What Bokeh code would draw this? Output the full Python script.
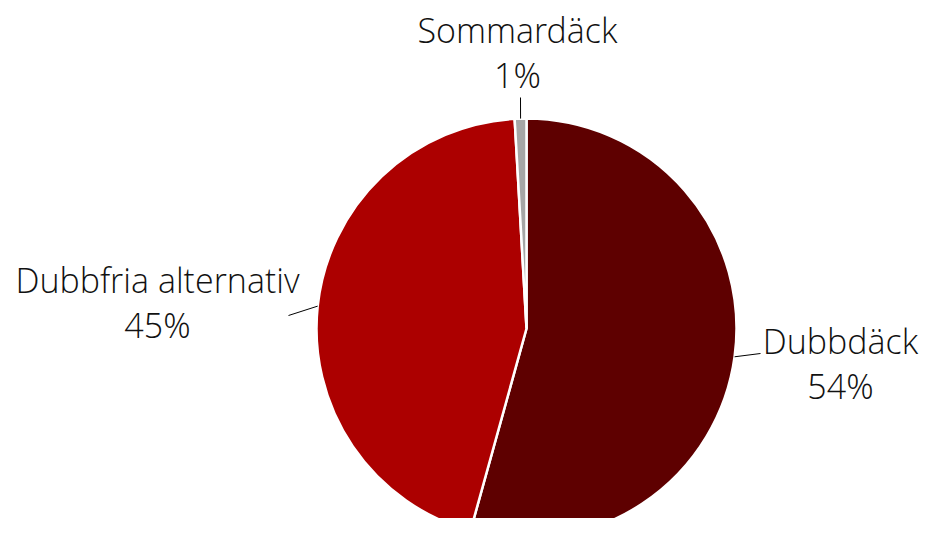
import numpy as np
from bokeh.plotting import figure
from bokeh.models import Range1d
from bokeh.core.properties import value
from bokeh.embed import file_html
from bokeh.resources import INLINE

# ---- data ----
categories = ["Dubbdäck", "Dubbfria alternativ", "Sommardäck"]
shares = [54.3, 44.8, 0.9]
pct_labels = ["54%", "45%", "1%"]

# ---- style / layout ----
colors = ["#5E0000", "#AC0000", "#A6A6A6"]
W, H = 922, 518


def Y(sy):
    # convert a top-down pixel position to the plot's upward data axis
    return H - sy


cx, cy, R = 526, Y(328), 210
FONT = "'Open Sans Light', 'Open Sans', sans-serif"
FS = "34px"
shift = 13  # renderer places alphabetic baseline lower; compensate
# label position (x centre, baseline of first line) and leader end point
label_pos = [(840, Y(353 - shift)), (157, Y(292 - shift)), (517, Y(42 - shift))]
leader_end = [(760, Y(353)), (288, Y(315)), (520, Y(97))]
line_gap = 45

p = figure(width=W, height=H, output_backend="svg", toolbar_location=None,
           x_range=Range1d(0, W), y_range=Range1d(0, H),
           min_border=0, outline_line_color=None)
p.axis.visible = False
p.grid.visible = False
p.background_fill_color = "white"
p.border_fill_color = "white"

frac = np.array(shares) / np.sum(shares)
ends = np.pi / 2 - 2 * np.pi * np.concatenate([[0], np.cumsum(frac)[:-1]])
starts = ends - 2 * np.pi * frac
mids = (starts + ends) / 2

p.wedge(x=[cx] * 3, y=[cy] * 3, radius=R, start_angle=list(starts), end_angle=list(ends),
        fill_color=colors, line_color="white", line_width=2.5)

for i, cat in enumerate(categories):
    ex, ey = cx + R * np.cos(mids[i]), cy + R * np.sin(mids[i])
    lx, ly = leader_end[i]
    p.line([ex, lx], [ey, ly], line_color="black", line_width=1)
    tx, ty = label_pos[i]
    p.text(x=[tx, tx], y=[ty, ty - line_gap], text=[cat, pct_labels[i]],
           text_font=value(FONT), text_font_size=FS, text_color="#111111",
           text_align="center", text_baseline="alphabetic")

open("out.html", "w").write(file_html(p, INLINE))
